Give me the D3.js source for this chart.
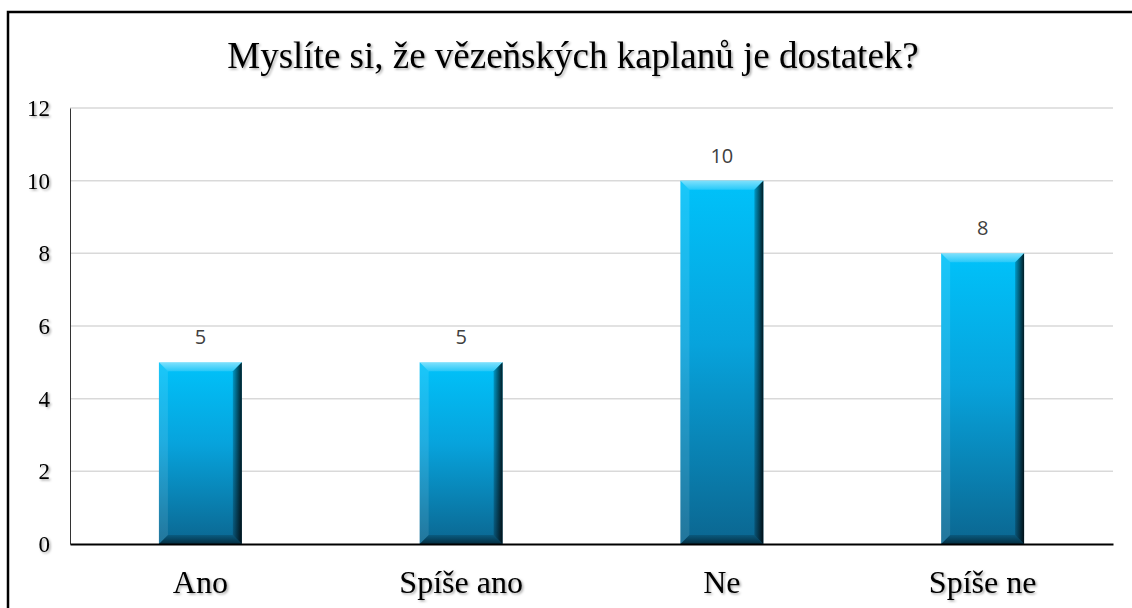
<!DOCTYPE html>
<html><head><meta charset="utf-8">
<script src="https://cdn.jsdelivr.net/npm/d3@7"></script>
<style>body{margin:0;background:#fff}svg{display:block}</style>
</head><body>
<svg id="c" width="1132" height="608"></svg>
<script>
const categories = ["Ano", "Spíše ano", "Ne", "Spíše ne"];
const values = [5, 5, 10, 8];
const yTicks = [0, 2, 4, 6, 8, 10, 12];
const title = "Myslíte si, že vězeňských kaplanů je dostatek?";

const svg = d3.select("#c");
const W = 1132, H = 608;
const m = {left: 70, right: 19, top: 108, bottom: 64};
const defs = svg.append("defs");

const sh = defs.append("filter").attr("id","shadow").attr("x","-20%").attr("y","-20%").attr("width","140%").attr("height","160%");
sh.append("feDropShadow").attr("dx",1.5).attr("dy",1.5).attr("stdDeviation",1).attr("flood-color","#000").attr("flood-opacity",0.35);

const g1 = defs.append("linearGradient").attr("id","barg").attr("x1",0).attr("y1",0).attr("x2",0).attr("y2",1);
g1.append("stop").attr("offset","0%").attr("stop-color","#00c2fa");
g1.append("stop").attr("offset","45%").attr("stop-color","#07a3dc");
g1.append("stop").attr("offset","100%").attr("stop-color","#0b6690");
const gR = defs.append("linearGradient").attr("id","rg").attr("x1",0).attr("y1",0).attr("x2",1).attr("y2",0);
gR.append("stop").attr("offset","0%").attr("stop-color","#000").attr("stop-opacity",0.2);
gR.append("stop").attr("offset","100%").attr("stop-color","#000").attr("stop-opacity",0.85);
const gT = defs.append("linearGradient").attr("id","tg").attr("x1",0).attr("y1",0).attr("x2",0).attr("y2",1);
gT.append("stop").attr("offset","0%").attr("stop-color","#fff").attr("stop-opacity",0.5);
gT.append("stop").attr("offset","100%").attr("stop-color","#fff").attr("stop-opacity",0.15);
const gB = defs.append("linearGradient").attr("id","bg").attr("x1",0).attr("y1",0).attr("x2",0).attr("y2",1);
gB.append("stop").attr("offset","0%").attr("stop-color","#000").attr("stop-opacity",0.15);
gB.append("stop").attr("offset","100%").attr("stop-color","#000").attr("stop-opacity",0.55);

// frame
svg.append("rect").attr("x",8).attr("y",12).attr("width",W).attr("height",H).attr("fill","none").attr("stroke","#000").attr("stroke-width",2.5);

const x = d3.scaleBand().domain(categories).range([m.left, W - m.right]).paddingInner(0.682).paddingOuter(0.341);
const y = d3.scaleLinear().domain([0, 12]).range([H - m.bottom, m.top]);

// gridlines
svg.append("g").selectAll("line").data(yTicks.filter(d => d > 0)).join("line")
  .attr("x1", m.left).attr("x2", W - m.right)
  .attr("y1", d => y(d)).attr("y2", d => y(d))
  .attr("stroke", "#d9d9d9").attr("stroke-width", 1.5);

// y axis
const ya = svg.append("g").attr("transform", `translate(${m.left},0)`)
  .call(d3.axisLeft(y).tickValues(yTicks).tickSize(0).tickPadding(20));
ya.select(".domain").attr("stroke", "#333").attr("stroke-width", 1);
ya.selectAll("text").attr("font-family", "'Liberation Serif','Times New Roman',serif")
  .attr("font-size", 23).attr("fill", "#000").attr("filter", "url(#shadow)");

// bars
const bars = svg.append("g").selectAll("g").data(categories.map((c,i)=>({c, v: values[i]}))).join("g");
const bev = 9;
bars.each(function(d){
  const g = d3.select(this);
  const x0 = x(d.c), w = x.bandwidth(), y0 = y(d.v), y1 = y(0), h = y1 - y0;
  g.append("rect").attr("x", x0).attr("y", y0).attr("width", w).attr("height", h).attr("fill", "url(#barg)");
  g.append("path").attr("d", `M${x0},${y0}L${x0+w},${y0}L${x0+w-bev},${y0+bev}L${x0+bev},${y0+bev}Z`).attr("fill","url(#tg)");
  g.append("path").attr("d", `M${x0},${y0}L${x0+bev},${y0+bev}L${x0+bev},${y1-bev}L${x0},${y1}Z`).attr("fill","#fff").attr("fill-opacity",0.1);
  g.append("path").attr("d", `M${x0+w},${y0}L${x0+w},${y1}L${x0+w-bev},${y1-bev}L${x0+w-bev},${y0+bev}Z`).attr("fill","url(#rg)");
  g.append("path").attr("d", `M${x0},${y1}L${x0+w},${y1}L${x0+w-bev},${y1-bev}L${x0+bev},${y1-bev}Z`).attr("fill","url(#bg)");
});

// data labels
svg.append("g").selectAll("text").data(categories.map((c,i)=>({c, v: values[i]}))).join("text")
  .attr("x", d => x(d.c) + x.bandwidth()/2).attr("y", d => y(d.v) - 18)
  .attr("text-anchor", "middle").attr("font-family", "'Open Sans','Noto Sans',sans-serif")
  .attr("font-size", 20).attr("fill", "#404040").text(d => d.v);

// x axis
const xa = svg.append("g").attr("transform", `translate(0,${y(0)})`)
  .call(d3.axisBottom(x).tickSize(0).tickPadding(26));
xa.select(".domain").attr("stroke", "#000").attr("stroke-width", 2);
xa.selectAll("text").attr("font-family", "'Liberation Serif','Times New Roman',serif")
  .attr("font-size", 32).attr("fill", "#000").attr("filter", "url(#shadow)");

// title
svg.append("text").attr("x", 573).attr("y", 68).attr("text-anchor", "middle")
  .attr("font-family", "'Liberation Serif','Times New Roman',serif").attr("font-size", 37)
  .attr("fill", "#000").attr("filter", "url(#shadow)").text(title);
</script>
</body></html>
